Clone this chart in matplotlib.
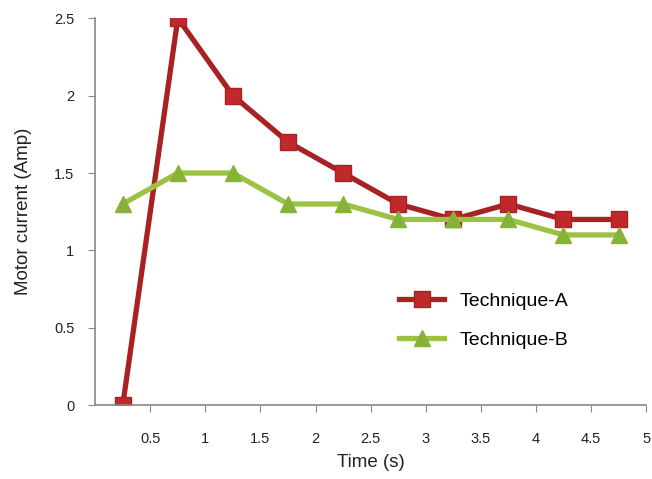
import matplotlib
matplotlib.use('Agg')
from matplotlib import pyplot as plt

time_s = [0.25, 0.75, 1.25, 1.75, 2.25, 2.75, 3.25, 3.75, 4.25, 4.75]
technique_a = [0, 2.5, 2.0, 1.7, 1.5, 1.3, 1.2, 1.3, 1.2, 1.2]
technique_b = [1.3, 1.5, 1.5, 1.3, 1.3, 1.2, 1.2, 1.2, 1.1, 1.1]
x_ticks = [0.5, 1, 1.5, 2, 2.5, 3, 3.5, 4, 4.5, 5]
x_tick_labels = ['0.5', '1', '1.5', '2', '2.5', '3', '3.5', '4', '4.5', '5']
y_ticks = [0, 0.5, 1, 1.5, 2, 2.5]
y_tick_labels = ['0', '0.5', '1', '1.5', '2', '2.5']

plt.rcParams['font.family'] = ['Liberation Sans', 'DejaVu Sans']

fig = plt.figure(figsize=(6.52, 4.79), dpi=100)
ax = fig.add_axes([0.146, 0.154, 0.845, 0.808])

ax.plot(time_s, technique_a, color='#A82224', linewidth=3.8, marker='s',
        markersize=11, markerfacecolor='#C0282B', markeredgecolor='#A82224',
        label='Technique-A')
ax.plot(time_s, technique_b, color='#9BC243', linewidth=3.8, marker='^',
        markersize=11, markerfacecolor='#86B23A', markeredgecolor='#86B23A',
        label='Technique-B')

ax.set_xlim(0, 5)
ax.set_ylim(0, 2.5)
ax.set_xticks(x_ticks)
ax.set_xticklabels(x_tick_labels)
ax.set_yticks(y_ticks)
ax.set_yticklabels(y_tick_labels)
ax.tick_params(direction='out', length=5, color='#888888', labelsize=10.5,
               labelcolor='#222222')
ax.tick_params(axis='x', pad=14)
ax.tick_params(axis='y', pad=10)

for side in ['top', 'right']:
    ax.spines[side].set_visible(False)
for side in ['left', 'bottom']:
    ax.spines[side].set_color('#888888')
    ax.spines[side].set_linewidth(1.2)

ax.set_xlabel('Time (s)', fontsize=13.5, labelpad=6, color='#222222')
ax.set_ylabel('Motor current (Amp)', fontsize=13.5, labelpad=16, color='#222222')

ax.legend(loc='lower left', bbox_to_anchor=(0.52, 0.1), frameon=False,
          fontsize=14, handlelength=2.3, labelspacing=1.1)

fig.savefig('out.png', dpi=100)
